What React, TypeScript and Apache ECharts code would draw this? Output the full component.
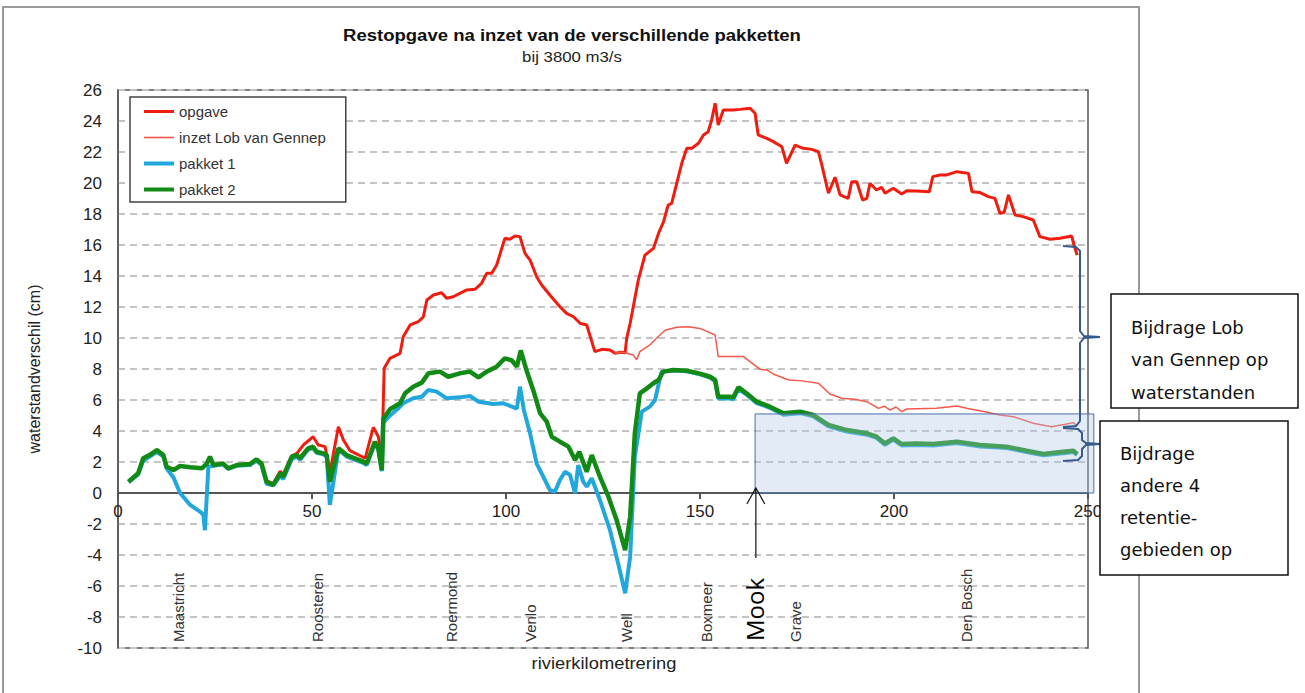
import React, { useEffect, useRef } from "react";
import * as echarts from "echarts";

// ---------- data (km along the river, water level difference in cm) ----------
const opgaveKm = [2.7, 5.2, 6.5, 8.5, 10, 11.7, 12.5, 14.3, 16, 18.6, 21.6, 22.9, 23.7, 24.6, 27.1, 28.4, 30.6, 34, 35.7, 37, 38.3, 40, 41.8, 42.6, 44.8, 46.1, 47.8, 50.3, 51.6, 53.4, 54.6, 56.8, 58.1, 59.8, 63.7, 65.8, 67.1, 68, 68.6, 70.1, 72.7, 73.5, 75.3, 77.4, 78.7, 79.6, 81.3, 83.4, 84.7, 86.4, 88.1, 89.9, 92, 93.7, 95, 96.3, 97.6, 99.7, 101, 102.3, 103.6, 104.9, 106.2, 107.9, 109.2, 111.3, 113.9, 115.6, 117.4, 119.1, 120.8, 122.9, 124.7, 126.8, 128.1, 129.4, 130.7, 131.1, 132, 134.1, 135.8, 138, 139.3, 140.6, 141.8, 142.7, 144, 145.3, 146.6, 147.9, 149.6, 150.9, 152.1, 153, 153.9, 154.7, 156, 158.6, 160.3, 162.9, 164.2, 165, 167.2, 168.9, 171.1, 172.3, 174.5, 176.6, 178.8, 180.5, 181.3, 183.1, 184.8, 186.1, 188.2, 189.1, 190.4, 191.9, 193, 193.8, 195.5, 196.8, 197.7, 199.8, 202, 203.3, 205.8, 209.1, 210, 211.9, 213.6, 216.2, 219.2, 220.1, 222.2, 224.3, 226, 227.3, 228.4, 229.5, 231.2, 233.3, 235.9, 237.6, 240.2, 242.8, 245.8, 246.4, 247.2];
const opgaveVal = [0.73, 1.27, 2.24, 2.5, 2.77, 2.45, 1.7, 1.48, 1.74, 1.66, 1.59, 1.9, 2.34, 1.8, 1.9, 1.59, 1.8, 1.87, 2.17, 1.9, 0.8, 0.6, 1.4, 1.2, 2.4, 2.55, 3.1, 3.63, 3.1, 2.99, 1.3, 4.28, 3.42, 2.73, 2.24, 4.24, 3.63, 2.13, 8.05, 8.69, 9.01, 10.08, 10.84, 11.05, 11.37, 12.45, 12.77, 12.92, 12.56, 12.66, 12.88, 13.1, 13.14, 13.53, 14.17, 14.17, 14.71, 16.43, 16.37, 16.58, 16.54, 15.46, 15.03, 13.95, 13.42, 12.77, 12.02, 11.59, 11.37, 10.95, 10.84, 9.12, 9.27, 9.23, 9.01, 9.08, 9.05, 9.98, 10.95, 13.74, 15.35, 15.78, 16.75, 17.5, 18.58, 18.69, 19.98, 21.27, 22.24, 22.24, 22.56, 23.1, 23.31, 24.06, 25.14, 23.74, 24.71, 24.71, 24.75, 24.82, 24.5, 23.1, 22.88, 22.67, 22.34, 21.27, 22.45, 22.24, 22.17, 22.02, 21.27, 19.34, 20.37, 19.23, 19.01, 20.08, 20.08, 18.9, 19.01, 19.98, 19.55, 19.72, 19.34, 19.66, 19.29, 19.5, 19.48, 19.44, 20.41, 20.52, 20.52, 20.73, 20.62, 19.44, 19.38, 19.12, 19.01, 18.05, 18.1, 19.23, 17.94, 17.83, 17.61, 16.54, 16.37, 16.43, 16.58, 16.0, 15.35];

const inzetKm = [128.1, 129.4, 130.7, 132.8, 133.7, 134.5, 137.1, 138.8, 141, 144, 147, 150, 153.9, 154.7, 161.2, 162.9, 165.5, 167.2, 168.9, 172.8, 175.8, 180.5, 183.5, 186.5, 189.9, 193, 196, 197.5, 199, 200.5, 202, 203.3, 210.9, 216.2, 219, 222.2, 227.3, 230.8, 235.9, 240.6, 244.5, 246.2, 247.2];
const inzetVal = [9.01, 9.08, 9.05, 8.9, 8.6, 9.12, 9.55, 9.98, 10.5, 10.69, 10.73, 10.62, 10.19, 8.8, 8.8, 8.47, 7.98, 7.94, 7.68, 7.29, 7.25, 7.08, 6.39, 6.11, 6.05, 5.89, 5.46, 5.6, 5.35, 5.55, 5.25, 5.42, 5.46, 5.61, 5.45, 5.31, 5.03, 4.92, 4.5, 4.28, 4.45, 4.54, 4.32];

const pakket1Km = [2.7, 5.2, 6.5, 8.5, 10, 11.7, 12.5, 14.3, 16, 18.6, 21.1, 22, 22.4, 23.3, 24.6, 27.1, 28.4, 30.6, 34, 35.7, 37, 38.3, 40, 41.8, 42.6, 44.8, 46.1, 46.9, 49, 50.3, 51.2, 52.9, 53.8, 54.6, 56.8, 58.9, 63.2, 64.1, 66.2, 67.1, 68, 68.3, 70.1, 72, 73.5, 76.1, 78.3, 80, 82.1, 84.7, 88.1, 90.7, 92.9, 96.7, 99.3, 102.8, 103.6, 104.6, 106.2, 107.9, 109.6, 111.3, 112.6, 113.9, 115.2, 116.5, 117.8, 118.6, 119.9, 120.8, 122.1, 124.2, 126.8, 128.9, 130.7, 132, 133.2, 135, 137.1, 138.4, 140.1, 143.1, 146.6, 150, 152.6, 153.9, 154.7, 157.7, 158.6, 159.9, 162, 164.6, 168, 171.5, 175.8, 179.2, 183.1, 187.8, 193, 195.5, 197.7, 199.8, 202, 205.8, 210.1, 216.2, 222.2, 229, 234.2, 238.5, 243.6, 246.2, 247.2];
const pakket1Val = [0.7, 1.2, 2.1, 2.4, 2.65, 2.35, 1.6, 1.0, 0.0, -0.77, -1.2, -1.4, -2.4, 1.7, 1.75, 1.85, 1.55, 1.75, 1.8, 2.1, 1.8, 0.6, 0.5, 1.1, 0.9, 2.2, 2.35, 2.15, 2.8, 2.9, 2.6, 2.5, 2.35, -0.77, 2.8, 2.35, 1.95, 1.8, 3.2, 2.8, 1.4, 4.5, 5.0, 5.4, 5.79, 6.11, 6.21, 6.65, 6.54, 6.11, 6.17, 6.26, 5.89, 5.74, 5.79, 5.45, 6.86, 5.36, 3.85, 1.9, 1.05, 0.19, 0.08, 0.84, 1.37, 1.16, -0.02, 1.8, 0.73, 0.41, 0.95, -0.45, -2.39, -4.54, -6.47, -4.11, 2.34, 5.25, 5.57, 6.0, 7.83, 7.9, 7.85, 7.65, 7.45, 7.2, 6.1, 6.1, 6.05, 6.7, 6.35, 5.8, 5.5, 5.05, 5.15, 4.95, 4.3, 3.97, 3.76, 3.55, 3.1, 3.45, 3.07, 3.1, 3.07, 3.22, 3.0, 2.9, 2.65, 2.43, 2.57, 2.65, 2.45];

const pakket2Km = [2.7, 5.2, 6.5, 8.5, 10, 11.7, 12.5, 14.3, 16, 18.6, 21.6, 22.9, 23.7, 24.6, 27.1, 28.4, 30.6, 34, 35.7, 37, 38.3, 40, 41.8, 42.6, 44.8, 46.1, 46.9, 49, 50.3, 51.2, 52.9, 53.8, 54.6, 56.8, 58.9, 63.2, 64.1, 66.2, 67.1, 68, 68.4, 70.1, 72.7, 74, 76.1, 78.3, 80, 83, 85.1, 88.1, 90.7, 92.9, 95, 97.6, 99.7, 101.5, 102.8, 103.8, 105.3, 107, 108.8, 110.5, 111.8, 113.9, 116.1, 117.8, 118.9, 120.8, 122.1, 124.2, 126.4, 128.5, 130.7, 132, 133.2, 134.5, 136.3, 138, 139.3, 140.5, 143.1, 146.6, 150, 152.6, 153.9, 154.7, 157.7, 158.6, 159.9, 162, 164.6, 168, 171.5, 175.8, 179.2, 183.1, 187.8, 193, 195.5, 197.7, 199.8, 202, 205.8, 210.1, 216.2, 222.2, 229, 234.2, 238.5, 243.6, 246.2, 247.2];
const pakket2Val = [0.73, 1.27, 2.24, 2.5, 2.77, 2.45, 1.7, 1.48, 1.74, 1.66, 1.59, 1.9, 2.34, 1.8, 1.9, 1.59, 1.8, 1.87, 2.17, 1.9, 0.73, 0.52, 1.27, 1.05, 2.34, 2.45, 2.24, 2.88, 2.99, 2.66, 2.56, 2.45, 0.73, 2.88, 2.45, 2.02, 1.9, 3.3, 2.88, 1.48, 4.8, 5.4, 5.79, 6.43, 6.86, 7.12, 7.72, 7.83, 7.5, 7.72, 7.83, 7.46, 7.83, 8.15, 8.69, 8.55, 8.15, 9.2, 7.9, 6.65, 5.14, 4.6, 3.63, 3.31, 2.99, 2.13, 2.66, 1.37, 2.45, 1.05, -0.24, -1.74, -3.68, -1.53, 3.85, 6.43, 6.75, 7.08, 7.29, 7.83, 7.94, 7.89, 7.7, 7.5, 7.3, 6.21, 6.21, 6.17, 6.82, 6.43, 5.89, 5.57, 5.14, 5.25, 5.03, 4.39, 4.06, 3.85, 3.63, 3.2, 3.53, 3.16, 3.2, 3.16, 3.31, 3.1, 2.99, 2.73, 2.52, 2.66, 2.73, 2.52];

const seriesNames = ["opgave", "inzet Lob van Gennep", "pakket 1", "pakket 2"];
const placeNames = ["Maastricht", "Roosteren", "Roermond", "Venlo", "Well", "Boxmeer", "Grave", "Den Bosch"];
const placeKm = [15.5, 51.5, 86, 106.2, 131, 151.6, 174.6, 218.6];
const mookKm = 164.4;
const shadeRange = [164.2, 251.5, 0, 5.1]; // km from, km to, cm from, cm to
const yMin = -10;
const yMax = 26;

const FONT = "'Liberation Sans', Arial, sans-serif";

export default function App() {
  const ref = useRef<HTMLDivElement>(null);
  useEffect(() => {
    const chart = echarts.init(ref.current!, null, { renderer: "svg" });
    const zip = (a: number[], b: number[]) => a.map((x, i) => [x, b[i]]);
    const colors = ["#ee1d10", "#f4584a", "#21a7dc", "#128a16"];
    const widths = [3, 1.5, 4, 4.5];
    const iconH = [3, 1.6, 4, 4];
    const datas = [
      zip(opgaveKm, opgaveVal),
      zip(inzetKm, inzetVal),
      zip(pakket1Km, pakket1Val),
      zip(pakket2Km, pakket2Val),
    ];
    const gridTop = 90;
    const gridBottom = 45;
    const plotH = 693 - gridTop - gridBottom;
    const zeroFromBottom = ((0 - yMin) / (yMax - yMin)) * plotH;
    chart.setOption({
      animation: false,
      textStyle: { fontFamily: FONT },
      legend: {
        orient: "vertical",
        left: 130,
        top: 97,
        padding: [7, 20, 5, 14],
        itemWidth: 30,
        itemHeight: 14,
        itemGap: 11,
        borderColor: "#444",
        borderWidth: 1.5,
        backgroundColor: "#fff",
        textStyle: { fontSize: 15, color: "#333", fontFamily: FONT },
        data: seriesNames.map((name, i) => ({
          name,
          icon: `path://M0,0H30V${iconH[i]}H0Z`,
          itemStyle: { color: colors[i] },
        })),
      },
      grid: {
        left: 118,
        right: 217,
        top: gridTop,
        bottom: gridBottom,
        show: true,
        borderColor: "#555",
        borderWidth: 1.5,
        containLabel: false,
        outerBoundsMode: "none",
      },
      xAxis: {
        type: "value",
        min: 0,
        max: 250,
        interval: 50,
        offset: -zeroFromBottom,
        axisLine: { show: true, onZero: false, lineStyle: { color: "#555", width: 2 } },
        axisTick: { show: true, length: 6, lineStyle: { color: "#555", width: 2 } },
        axisLabel: { fontSize: 17, color: "#222", margin: 10, fontFamily: FONT },
        splitLine: { show: false },
      },
      yAxis: {
        type: "value",
        min: yMin,
        max: yMax,
        interval: 2,
        name: "waterstandverschil (cm)",
        nameLocation: "middle",
        nameGap: 76,
        nameTextStyle: { fontSize: 16, color: "#222", fontFamily: FONT },
        axisLine: { show: true, lineStyle: { color: "#555", width: 1.5 } },
        axisTick: { show: false },
        axisLabel: { fontSize: 17, color: "#222", margin: 16, fontFamily: FONT },
        splitLine: { lineStyle: { type: [7, 5], color: "#c4c4c4", width: 2 } },
      },
      series: seriesNames.map((name, i) => ({
        name,
        type: "line",
        data: datas[i],
        symbol: "none",
        showSymbol: false,
        lineStyle: { color: colors[i], width: widths[i] },
        itemStyle: { color: colors[i] },
        z: 2 + i,
      })),
    });

    const P = (x: number, y: number) => chart.convertToPixel({ gridIndex: 0 }, [x, y]) as number[];
    const g: any[] = [];
    // outer frame of the picture
    g.push({ type: "rect", z: -1, silent: true, shape: { x: 3, y: 7, width: 1136, height: 700 }, style: { fill: "none", stroke: "#9a9a9a", lineWidth: 2 } });
    // title
    g.push({ type: "text", x: 572, y: 35, scaleX: 1.09, style: { text: "Restopgave na inzet van de verschillende pakketten", font: `bold 17px ${FONT}`, fill: "#111", align: "center", verticalAlign: "middle" } });
    g.push({ type: "text", x: 572, y: 57, scaleX: 1.12, style: { text: "bij 3800 m3/s", font: `15px ${FONT}`, fill: "#222", align: "center", verticalAlign: "middle" } });
    // x axis name
    g.push({ type: "text", x: 604, y: 663, scaleX: 1.08, style: { text: "rivierkilometrering", font: `17px ${FONT}`, fill: "#222", align: "center", verticalAlign: "middle" } });
    // places along the river
    placeNames.forEach((n, i) => {
      const p = P(placeKm[i], yMin);
      g.push({ type: "text", x: p[0], y: 642, rotation: Math.PI / 2, style: { text: n, font: `15px ${FONT}`, fill: "#333", align: "left", verticalAlign: "middle" } });
    });
    const pm = P(mookKm, 0);
    g.push({ type: "text", x: pm[0] - 1, y: 641, rotation: Math.PI / 2, style: { text: "Mook", font: "24px 'Open Sans', 'DejaVu Sans', sans-serif", fill: "#000", align: "left", verticalAlign: "middle" } });
    // arrow to Mook
    g.push({ type: "line", z: 20, shape: { x1: pm[0], y1: 558, x2: pm[0], y2: pm[1] - 5 }, style: { stroke: "#111", lineWidth: 1.2 } });
    g.push({ type: "polyline", z: 20, shape: { points: [[pm[0] - 9, pm[1] + 11], [pm[0], pm[1] - 5], [pm[0] + 9, pm[1] + 11]] }, style: { fill: "none", stroke: "#111", lineWidth: 1.2 } });
    // shaded area
    const a = P(shadeRange[0], shadeRange[3]);
    const b = P(shadeRange[1], shadeRange[2]);
    g.push({ type: "rect", z: 15, shape: { x: a[0], y: a[1], width: b[0] - a[0], height: b[1] - a[1] }, style: { fill: "rgba(176,198,228,0.35)", stroke: "#4a6fa8", lineWidth: 1 } });
    // braces
    const bc = "#365a8c";
    g.push({ type: "polyline", z: 21, shape: { points: [[1063, 246], [1076, 247], [1080, 251], [1080, 331], [1084, 336], [1100, 337]] }, style: { fill: "none", stroke: bc, lineWidth: 2 } });
    g.push({ type: "polyline", z: 21, shape: { points: [[1100, 337], [1084, 338], [1080, 343], [1080, 421], [1076, 426], [1063, 427]] }, style: { fill: "none", stroke: bc, lineWidth: 2 } });
    g.push({ type: "polyline", z: 21, shape: { points: [[1063, 428], [1078, 429], [1082, 433], [1082, 440], [1086, 443], [1100, 444]] }, style: { fill: "none", stroke: bc, lineWidth: 2 } });
    g.push({ type: "polyline", z: 21, shape: { points: [[1100, 444], [1086, 445], [1082, 449], [1082, 456], [1078, 460], [1063, 461]] }, style: { fill: "none", stroke: bc, lineWidth: 2 } });
    // text boxes
    const boxFont = "18px 'DejaVu Sans', Verdana, sans-serif";
    g.push({ type: "rect", z: 30, shape: { x: 1111, y: 294, width: 187, height: 114 }, style: { fill: "#fff", stroke: "#111", lineWidth: 1.5 } });
    ["Bijdrage Lob", "van Gennep op", "waterstanden"].forEach((t, i) => {
      g.push({ type: "text", z: 31, x: 1131, y: 327 + i * 32.5, style: { text: t, font: boxFont, fill: "#111", align: "left", verticalAlign: "middle" } });
    });
    g.push({ type: "rect", z: 30, shape: { x: 1100, y: 421, width: 188, height: 154 }, style: { fill: "#fff", stroke: "#111", lineWidth: 1.5 } });
    ["Bijdrage", "andere 4", "retentie-", "gebieden op"].forEach((t, i) => {
      g.push({ type: "text", z: 31, x: 1120, y: 453 + i * 32.2, style: { text: t, font: boxFont, fill: "#111", align: "left", verticalAlign: "middle" } });
    });
    chart.setOption({ graphic: g });
    return () => chart.dispose();
  }, []);
  return <div ref={ref} style={{ position: "fixed", left: 0, top: 0, width: 1305, height: 693, background: "#fff" }} />;
}
